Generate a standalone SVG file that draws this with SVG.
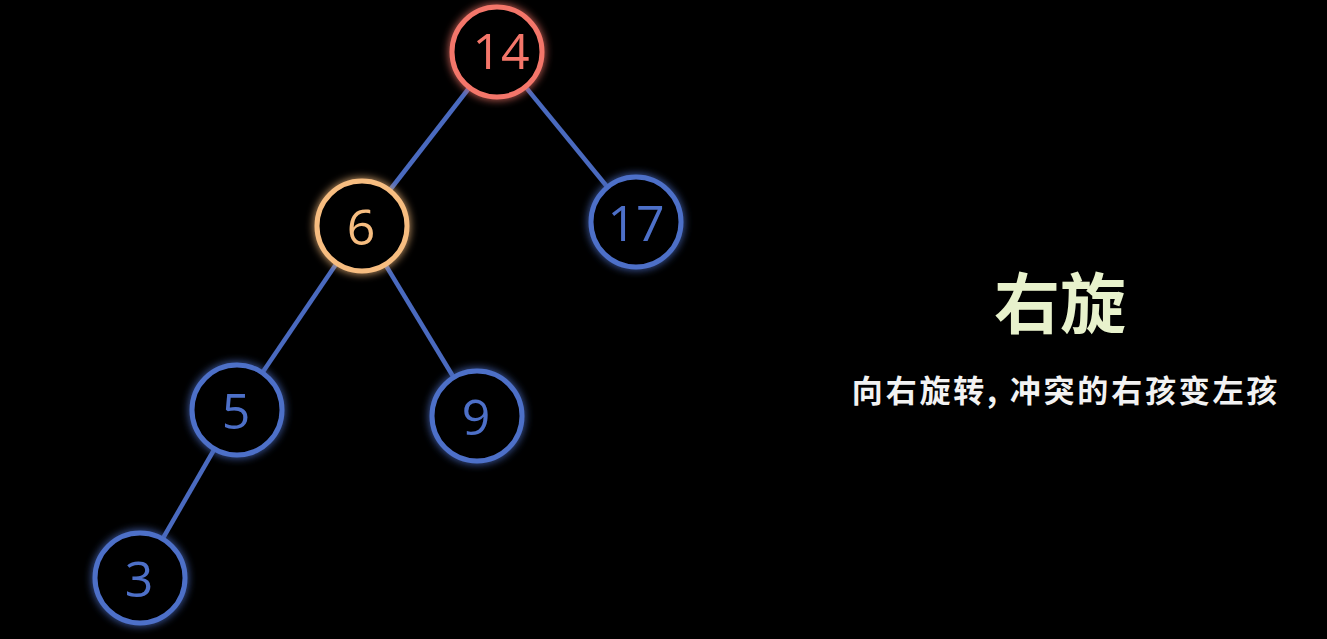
<svg xmlns="http://www.w3.org/2000/svg" width="1327" height="639" viewBox="0 0 1327 639">
<defs>
<filter id="glow" x="-30%" y="-30%" width="160%" height="160%">
<feGaussianBlur in="SourceGraphic" stdDeviation="4" result="b"/>
<feMerge><feMergeNode in="b"/><feMergeNode in="SourceGraphic"/></feMerge>
</filter>
<style>
.edge{stroke:#4a6abf;stroke-width:4.5;fill:none}
.node circle{fill:#000;stroke-width:5}
.node text{font-family:"Open Sans","Liberation Sans",sans-serif;font-size:50px;text-anchor:middle;dominant-baseline:central}
.blue circle{stroke:#4d6fc8}
.blue text{fill:#4d6fc8}
.red circle{stroke:#f4766a}
.red text{fill:#f4766a}
.orange circle{stroke:#f7bd80}
.orange text{fill:#f7bd80}
</style>
</defs>
<rect width="1327" height="639" fill="#000"/>
<g id="connectors">
<line class="edge" x1="497" y1="52" x2="362" y2="226"/>
<line class="edge" x1="497" y1="52" x2="636" y2="222"/>
<line class="edge" x1="362" y1="226" x2="237" y2="410"/>
<line class="edge" x1="362" y1="226" x2="477" y2="416"/>
<line class="edge" x1="237" y1="410" x2="140" y2="578"/>
</g>
<g id="n14" class="node red" filter="url(#glow)"><circle cx="497" cy="52" r="45"/><text x="501" y="50">14</text></g>
<g id="n6" class="node orange" filter="url(#glow)"><circle cx="362" cy="226" r="45"/><text x="361" y="226">6</text></g>
<g id="n17" class="node blue" filter="url(#glow)"><circle cx="636" cy="222" r="45"/><text x="636" y="222">17</text></g>
<g id="n5" class="node blue" filter="url(#glow)"><circle cx="237" cy="410" r="45"/><text x="236" y="410">5</text></g>
<g id="n9" class="node blue" filter="url(#glow)"><circle cx="477" cy="416" r="45"/><text x="476" y="416">9</text></g>
<g id="n3" class="node blue" filter="url(#glow)"><circle cx="140" cy="578" r="45"/><text x="139" y="578">3</text></g>
<g id="caption">
<text x="1060" y="328" font-family="'Noto Sans CJK SC',sans-serif" font-size="66" font-weight="bold" fill="#e8f2cc" text-anchor="middle">右旋</text>
<text x="1066" y="402" font-family="'Noto Sans CJK SC',sans-serif" font-size="31" font-weight="bold" fill="#f2f2f2" text-anchor="middle" letter-spacing="2.8">向右旋转, 冲突的右孩变左孩</text>
</g>
</svg>
